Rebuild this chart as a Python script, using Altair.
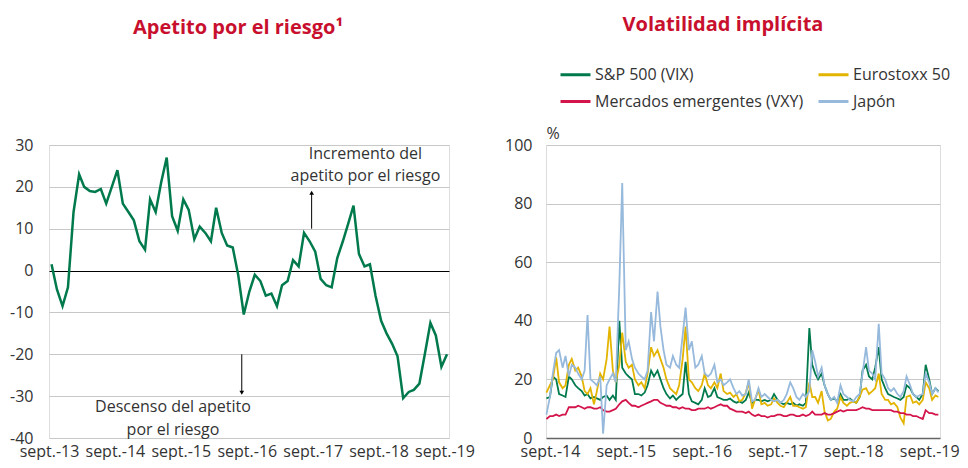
import altair as alt
import pandas as pd

FONT = "Open Sans"
TXT = "#333333"
RED_TITLE = "#c8102e"
FS = 16

# ---------------- Left panel: Apetito por el riesgo ----------------
risk_dates = [f"{2013 + (8 + i) // 12}-{(8 + i) % 12 + 1:02d}-15" for i in range(73)]
risk_values = [1.5, -4.5, -8.5, -4, 14, 23, 20, 19, 18.8, 19.5,
               16, 20, 24, 16, 14, 12, 7, 5, 17, 14,
               21, 27, 13, 9.5, 17, 14.5, 7.5, 10.5, 9, 7,
               15, 9, 6, 5.5, -1, -10.5, -5, -1, -2.5, -6,
               -5.5, -8.5, -3.5, -2.5, 2.5, 1, 9, 7, 4.5, -2,
               -3.5, -4, 3, 7, 11, 15.5, 4, 1, 1.5, -6,
               -12, -15, -17.5, -20.5, -30.5, -29, -28.5, -27, -20, -12.5,
               -15.5, -23, -20]

note_text = ["Incremento del", "apetito por el riesgo", "Descenso del apetito", "por el riesgo"]
note_dates = ["2018-06-20", "2018-06-20", "2015-07-20", "2015-07-20"]
note_values = [27.9, 22.5, -32.7, -38.0]

arrow_dates = ["2017-08-26", "2016-08-04"]
arrow_from = [10, -20]
arrow_to = [18.6, -29.2]
arrow_shape = ["triangle-up", "triangle-down"]

left_years = list(range(2013, 2020))
left_ticks = [-40, -30, -20, -10, 0, 10, 20, 30]

# ---------------- Right panel: Volatilidad implícita ----------------
vol_dates = pd.date_range("2014-08-15", "2019-10-15", freq="SMS").strftime("%Y-%m-%d").tolist()

series_names = ["S&P 500 (VIX)", "Eurostoxx 50", "Mercados emergentes (VXY)", "Japón"]
series_colors = ["#007a4d", "#e3b400", "#d3154b", "#96b9dc"]

sp500 = [13.5, 14, 21, 20, 15, 14.5, 14, 21, 20, 18,
         17, 16, 14.5, 15, 13.5, 14, 13.5, 13, 14, 14.5,
         13, 14.5, 13, 40, 24, 22, 21, 20, 15, 15,
         14.5, 15.5, 18, 23, 21, 23, 20, 17, 15, 13.5,
         14.5, 13, 14, 15, 26, 15, 12.5, 12, 11.5, 13,
         17, 14, 14.5, 17, 14, 13.5, 13, 13, 13.5, 12.5,
         12, 12.5, 12, 13, 15.5, 12, 13, 13, 12.5, 13,
         12.5, 13, 15, 13, 12, 11.5, 12, 11.5, 12, 11,
         11.5, 11, 12, 37.5, 25, 22, 20, 22, 18, 15,
         13, 13.5, 12.5, 15, 13, 13, 13.5, 12.5, 12, 14,
         23, 25, 21, 20, 24, 31, 20, 17, 15, 14.5,
         14, 13.5, 13, 14, 18, 17, 15, 14, 13, 15,
         25, 20, 15, 17, 16]

eurostoxx = [15.5, 18, 20, 27.5, 19, 17, 18, 25, 27, 23,
             24, 21, 16, 15, 17, 11.5, 16, 22, 20, 27,
             38, 23, 19, 25, 36, 26, 24, 25, 20, 18,
             19, 17, 22, 31, 28, 30, 27, 24, 20, 17,
             16, 15, 18, 27, 38, 20, 19, 17, 16, 18,
             22, 18, 17, 19, 17, 22, 16, 15, 15.5, 14,
             15, 12.5, 13, 15.5, 19, 10, 13, 16.5, 11.5, 12,
             11, 11.5, 13.5, 12, 11, 10.5, 12, 14, 11, 11,
             10.5, 10, 10.5, 19, 14, 14, 12, 16, 9, 6,
             6.5, 9, 10, 14, 12, 11, 12, 12.5, 12, 14,
             16.5, 17, 15, 16, 17, 22, 15, 13, 13, 11.5,
             12, 10.5, 7, 5, 14, 14.5, 12, 12.5, 11.5, 13,
             19, 17, 13, 14.5, 14]

emergentes = [6.5, 7.5, 7.5, 8, 7.5, 8, 8, 10.5, 10.5, 10.5,
              11, 10.5, 10, 10.5, 10.5, 10, 10, 10.5, 9.5, 9,
              9, 9.5, 10, 11.5, 12.5, 13, 12, 11, 11, 10.5,
              11, 11.5, 12, 12.5, 13, 13, 12, 11.5, 11, 11,
              10.5, 10.5, 10, 10.5, 10, 10, 9.5, 9.5, 10, 10,
              10, 10.5, 10, 10.5, 11, 11.5, 11, 11, 10, 9.5,
              9, 9, 9, 8.5, 9, 8, 7.5, 8, 7.5, 7.5,
              7, 7.5, 7.5, 8, 8, 7.5, 7.5, 8, 8, 7.5,
              7.5, 8, 7.5, 8, 9, 8, 8, 8, 8.5, 8,
              8, 8.5, 9, 9.5, 9, 9.5, 9.5, 9.5, 9.5, 10,
              10.5, 10, 10, 9.5, 9.5, 9.5, 9.5, 9.5, 9.5, 9.5,
              9, 9, 8.5, 8.5, 8, 8, 7.5, 7.5, 7, 6.5,
              9.5, 8.5, 8.5, 8, 8]

japon = [8, 14, 22, 29, 30, 24, 28, 21, 25, 24,
         22, 20, 23, 42, 20, 19, 18, 21, 1.5, 18,
         20, 22, 19, 52, 87, 30, 33, 27, 24, 22,
         21, 20, 23, 43, 33, 50, 38, 30, 25, 24,
         28, 25, 24, 35, 44.5, 30, 33, 24, 25, 28,
         22, 21, 22, 25, 19, 20, 18, 19, 20, 17,
         15, 16, 14.5, 15, 20, 12.5, 13, 17, 14, 15,
         14, 13, 12.5, 13, 12, 13, 15, 19, 17, 14,
         13, 15, 14, 16, 30, 26, 21, 24, 18, 15,
         13, 14, 12, 18, 15, 14, 13, 12.5, 14, 15,
         22, 31, 23, 22, 20, 39, 22, 20, 17, 16,
         17, 15, 14, 16, 21, 18, 15, 14, 14.5, 15,
         22, 19, 15, 17, 15.5]

right_years = list(range(2014, 2020))
right_ticks = [0, 20, 40, 60, 80, 100]

# ---------------- Build left chart ----------------
risk_df = pd.DataFrame({"fecha": risk_dates, "valor": risk_values})
notes_df = pd.DataFrame({"fecha": note_dates, "valor": note_values, "texto": note_text})
arrows_df = pd.DataFrame({"fecha": arrow_dates, "valor": arrow_from, "valor2": arrow_to,
                          "forma": arrow_shape})
heads_df = pd.DataFrame({"fecha": arrow_dates, "valor": arrow_to, "forma": arrow_shape})

x_left = alt.X(
    "fecha:T",
    scale=alt.Scale(type="utc", domain=[alt.DateTime(year=2013, month=9, date=1, utc=True),
                                        alt.DateTime(year=2019, month=9, date=26, utc=True)]),
    axis=alt.Axis(
        values=[alt.DateTime(year=y, month=9, date=1, utc=True) for y in left_years],
        labelExpr="'sept.-' + utcFormat(datum.value, '%y')",
        title=None, domain=False, ticks=False, grid=False, labelPadding=5,
        labelOverlap=False, labelFlush=False, labelBound=False,
        labelFontSize=FS, labelColor=TXT, labelFont=FONT,
    ),
)
y_left = alt.Y(
    "valor:Q",
    scale=alt.Scale(domain=[-40, 30], nice=False, zero=False),
    axis=alt.Axis(
        values=left_ticks, title=None, domain=False, ticks=False, labelPadding=16,
        labelExpr="'' + datum.value",
        labelFontSize=FS, labelColor=TXT, labelFont=FONT,
        gridColor={"condition": {"test": "datum.value === 0", "value": "#000000"},
                   "value": "#c8c8c8"},
        gridWidth=1,
    ),
)

left_line = alt.Chart(risk_df).mark_line(color="#007a4d", strokeWidth=2.5).encode(x=x_left, y=y_left)
left_notes = alt.Chart(notes_df).mark_text(font=FONT, fontSize=FS, color=TXT, align="center",
                                           baseline="middle").encode(x=x_left, y=y_left, text="texto:N")
left_rules = alt.Chart(arrows_df).mark_rule(color="#000000", strokeWidth=1).encode(
    x=x_left, y=y_left, y2="valor2:Q")
left_heads = alt.Chart(heads_df).mark_point(filled=True, size=22, color="#000000", opacity=1).encode(
    x=x_left, y=y_left, shape=alt.Shape("forma:N", scale=None, legend=None))

left_chart = alt.layer(left_line, left_rules, left_heads, left_notes).properties(
    width=400, height=293,
    title=alt.TitleParams("Apetito por el riesgo¹", font=FONT, fontSize=20, fontWeight="bold",
                          color=RED_TITLE, anchor="middle", frame="group", dx=-11, offset=99),
)

# ---------------- Build right chart ----------------
vol_df = pd.DataFrame({
    "fecha": vol_dates * 4,
    "serie": sum([[n] * len(vol_dates) for n in series_names], []),
    "valor": sp500 + eurostoxx + emergentes + japon,
})

x_right = alt.X(
    "fecha:T",
    scale=alt.Scale(type="utc", domain=[alt.DateTime(year=2014, month=8, date=13, utc=True),
                                        alt.DateTime(year=2019, month=10, date=23, utc=True)]),
    axis=alt.Axis(
        values=[alt.DateTime(year=y, month=9, date=1, utc=True) for y in right_years],
        labelExpr="'sept.-' + utcFormat(datum.value, '%y')",
        title=None, domain=False, ticks=False, grid=False, labelPadding=5,
        labelOverlap=False, labelFlush=False, labelBound=False,
        labelFontSize=FS, labelColor=TXT, labelFont=FONT,
    ),
)
y_right = alt.Y(
    "valor:Q",
    scale=alt.Scale(domain=[0, 100], nice=False),
    axis=alt.Axis(
        values=right_ticks, title="%", titleAngle=0, titleAlign="left", titleBaseline="middle",
        titleX=0, titleY=-12, titleFontWeight="normal", titleFontSize=FS, titleColor=TXT,
        titleFont=FONT, domain=False, ticks=False, labelPadding=14,
        labelFontSize=FS, labelColor=TXT, labelFont=FONT,
        gridColor={"condition": {"test": "datum.value === 0", "value": "#666666"},
                   "value": "#c8c8c8"},
        gridWidth={"condition": {"test": "datum.value === 0", "value": 1.5}, "value": 1},
    ),
)
color_right = alt.Color(
    "serie:N",
    scale=alt.Scale(domain=series_names, range=series_colors),
    legend=alt.Legend(
        title=None, orient="none", legendX=13, legendY=-87, columns=2, direction="horizontal",
        symbolType="stroke", symbolStrokeWidth=3, symbolSize=900, labelFontSize=FS,
        labelFont=FONT, labelColor=TXT, labelLimit=400, labelOffset=3, rowPadding=2,
        columnPadding=8, padding=0,
    ),
)

right_layers = [
    alt.Chart(vol_df).transform_filter(alt.datum.serie == name)
    .mark_line(strokeWidth=1.8)
    .encode(x=x_right, y=y_right, color=color_right)
    for name in series_names
]
right_chart = alt.layer(*right_layers).properties(
    width=394, height=293,
    title=alt.TitleParams("Volatilidad implícita", font=FONT, fontSize=20, fontWeight="bold",
                          color=RED_TITLE, anchor="middle", frame="group", dx=-20, offset=23),
)

chart = alt.hconcat(left_chart, right_chart, spacing=29).resolve_legend(
    color="independent", shape="independent"
).properties(
    padding={"left": 1, "top": 6, "right": 0, "bottom": 0}
).configure_view(stroke=None).configure(background="white")

chart.save("out.html", embed_options={"renderer": "svg", "actions": False})
